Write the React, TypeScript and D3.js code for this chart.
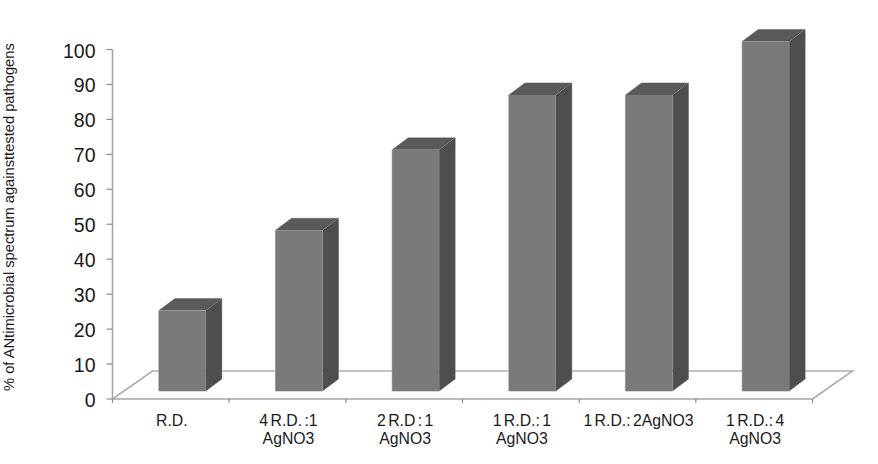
import { useEffect, useRef } from "react"
import * as d3 from "d3"

const categories = [
  ["R.D."],
  ["4 R.D. :1", "AgNO3"],
  ["2 R.D : 1", "AgNO3"],
  ["1 R.D.: 1", "AgNO3"],
  ["1 R.D.: 2AgNO3"],
  ["1 R.D.: 4", "AgNO3"],
]
const values = [23, 46, 69, 84.7, 84.7, 100]
const yTicks = [0, 10, 20, 30, 40, 50, 60, 70, 80, 90, 100]
const yTitle = "% of ANtimicrobial spectrum againsttested pathogens"

const font = "'Liberation Sans', Arial, sans-serif"

export default function App() {
  const svgRef = useRef<SVGSVGElement>(null)

  useEffect(() => {
    if (!svgRef.current) return
    const svg = d3.select(svgRef.current)
    svg.selectAll("*").remove()

    const x0 = 112.5
    const x1 = 812.5
    const y0 = 399
    const floorDx = 40
    const floorDy = -28
    const barDx = 16
    const barDy = -12

    const x = d3
      .scaleBand<number>()
      .domain(d3.range(categories.length))
      .range([x0, x1])
    const y = d3.scaleLinear().domain([0, 100]).range([y0, 49.5])
    const unit = y0 - y(1)

    // Floor
    svg
      .append("path")
      .attr(
        "d",
        `M${x0},${y0}L${x0 + floorDx},${y0 + floorDy}L${x1 + floorDx},${y0 + floorDy}L${x1},${y0}`,
      )
      .attr("fill", "none")
      .attr("stroke", "#aeaeae")
      .attr("stroke-width", 1.6)

    // Axis lines
    svg
      .append("path")
      .attr("d", `M${x0},${y(100)}V${y0}H${x1}`)
      .attr("fill", "none")
      .attr("stroke", "#a6a6a6")
      .attr("stroke-width", 1.6)

    // Y ticks and labels
    const yg = svg.append("g")
    yTicks.forEach((t) => {
      yg.append("line")
        .attr("x1", x0 - 6)
        .attr("x2", x0)
        .attr("y1", y(t))
        .attr("y2", y(t))
        .attr("stroke", "#8c8c8c")
        .attr("stroke-width", 1.2)
      yg.append("text")
        .attr("x", 95.5)
        .attr("y", y(t) + 8)
        .attr("text-anchor", "end")
        .attr("font-family", font)
        .attr("font-size", 19.5)
        .attr("fill", "#1a1a1a")
        .text(t)
    })

    // X ticks and labels
    const xTicks = d3.range(categories.length + 1).map((i) => x0 + i * x.step())
    xTicks.forEach((t) => {
      svg
        .append("line")
        .attr("x1", t)
        .attr("x2", t)
        .attr("y1", y0)
        .attr("y2", y0 + 4)
        .attr("stroke", "#8c8c8c")
        .attr("stroke-width", 1.2)
    })
    categories.forEach((lines, i) => {
      lines.forEach((line, j) => {
        svg
          .append("text")
          .attr("x", x(i)! + x.step() / 2 + 1)
          .attr("y", 425.5 + j * 18.5)
          .attr("text-anchor", "middle")
          .attr("font-family", font)
          .attr("font-size", 15.8)
          .attr("word-spacing", -2)
          .attr("fill", "#1a1a1a")
          .text(line)
      })
    })

    // Bars
    const barW = 47
    const base = y0 - 8
    values.forEach((v, i) => {
      const left = x(i)! + x.step() / 2 + 11.5 - barW / 2
      const right = left + barW
      const top = base - v * unit
      const g = svg.append("g")

      // Light outline around the whole bar
      g.append("path")
        .attr(
          "d",
          `M${left},${top}L${left + barDx},${top + barDy}H${right + barDx}V${base + barDy}L${right},${base}H${left}Z`,
        )
        .attr("fill", "none")
        .attr("stroke", "#b4b4b4")
        .attr("stroke-width", 1)
      // Top face
      g.append("path")
        .attr(
          "d",
          `M${left},${top}L${left + barDx},${top + barDy}L${right + barDx},${top + barDy}L${right},${top}Z`,
        )
        .attr("fill", "#5a5a5a")
      // Side face
      g.append("path")
        .attr(
          "d",
          `M${right},${top}L${right + barDx},${top + barDy}L${right + barDx},${base + barDy}L${right},${base}Z`,
        )
        .attr("fill", "#4e4e4e")
      // Front face
      g.append("rect")
        .attr("x", left)
        .attr("y", top)
        .attr("width", barW)
        .attr("height", base - top)
        .attr("fill", "#7a7a7a")
    })

    // Y axis title
    svg
      .append("text")
      .attr("transform", "translate(14,391) rotate(-90)")
      .attr("font-family", font)
      .attr("font-size", 14.7)
      .attr("fill", "#1a1a1a")
      .text(yTitle)
  }, [])

  return (
    <svg
      ref={svgRef}
      width={878}
      height={464}
      style={{ position: "absolute", left: 0, top: 0, background: "#fff" }}
    />
  )
}
